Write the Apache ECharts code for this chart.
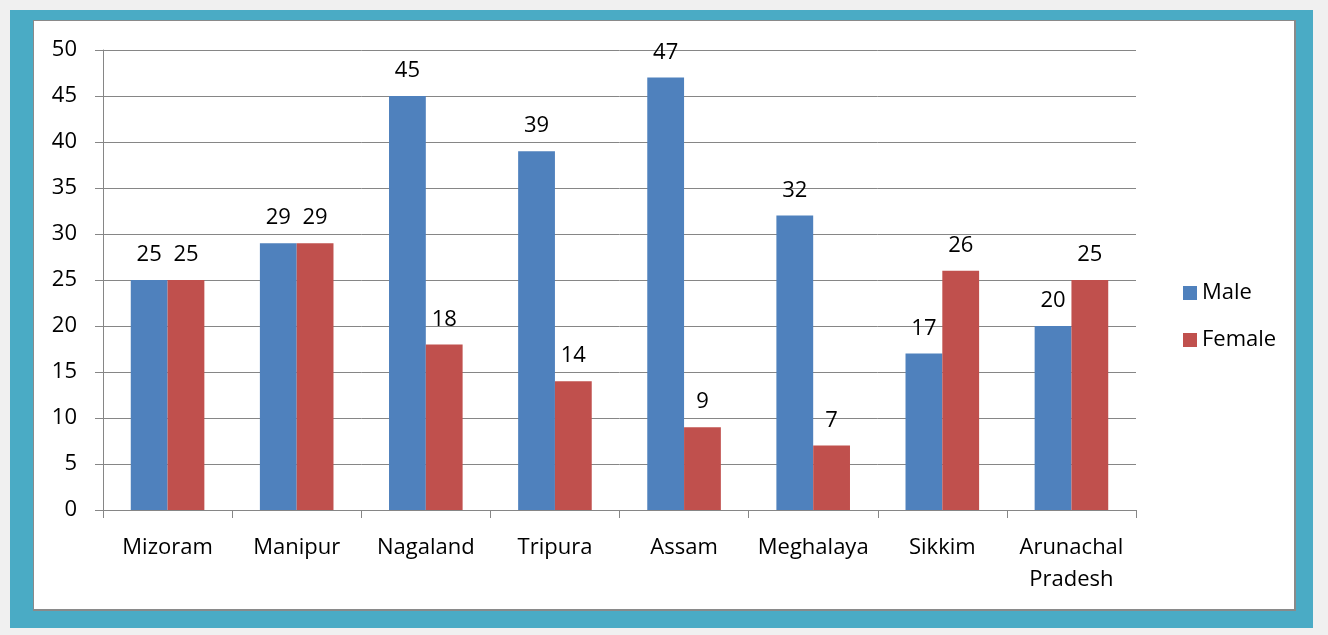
<!DOCTYPE html>
<html>
<head>
<meta charset="utf-8">
<script src="https://cdn.jsdelivr.net/npm/echarts@6/dist/echarts.min.js"></script>
<style>
  html, body { margin: 0; padding: 0; background: #f0f0f0; width: 1328px; height: 635px; overflow: hidden; }
  #frame { position: absolute; left: 10px; top: 10px; width: 1303px; height: 618px; background: #4aabc5; }
  #inner { position: absolute; left: 33px; top: 20px; width: 1263px; height: 591px; background: #fff; border: 1px solid #8a8a8a; border-bottom-width: 2px; border-right-width: 2px; box-sizing: border-box; }
  #chart { position: absolute; left: 0; top: 0; width: 1328px; height: 635px; }
</style>
</head>
<body>
<div id="frame"></div>
<div id="inner"></div>
<div id="chart"></div>
<script>
const categories = ['Mizoram', 'Manipur', 'Nagaland', 'Tripura', 'Assam', 'Meghalaya', 'Sikkim', 'Arunachal\nPradesh'];
const maleValues = [25, 29, 45, 39, 47, 32, 17, 20];
const femaleValues = [25, 29, 18, 14, 9, 7, 26, 25];
const yTicks = { min: 0, max: 50, interval: 5 };

const FONT = 'Open Sans';
const FS = 22;
const chart = echarts.init(document.getElementById('chart'), null, { renderer: 'canvas' });
const labelStyle = { show: true, position: 'top', distance: 14, color: '#000', fontFamily: FONT, fontSize: FS };
chart.setOption({
  backgroundColor: 'transparent',
  animation: false,
  grid: { left: 103, right: 192, top: 50, bottom: 125, containLabel: false },
  legend: {
    orient: 'vertical',
    left: 1178,
    top: 277,
    itemWidth: 14,
    itemHeight: 14,
    itemGap: 25,
    icon: 'rect',
    textStyle: { fontFamily: FONT, fontSize: FS, color: '#000' },
    data: ['Male', 'Female']
  },
  xAxis: {
    type: 'category',
    data: categories,
    axisLine: { lineStyle: { color: '#868686', width: 1 } },
    axisTick: { show: true, length: 8, lineStyle: { color: '#868686' } },
    axisLabel: { interval: 0, color: '#000', fontFamily: FONT, fontSize: FS, margin: 22, lineHeight: 32 }
  },
  yAxis: {
    type: 'value',
    min: yTicks.min,
    max: yTicks.max,
    interval: yTicks.interval,
    axisLine: { show: true, lineStyle: { color: '#868686', width: 1 } },
    axisTick: { show: true, length: 8, lineStyle: { color: '#868686' } },
    splitLine: { lineStyle: { color: '#868686', width: 1 } },
    axisLabel: { color: '#000', fontFamily: FONT, fontSize: FS, margin: 26 }
  },
  series: [
    { name: 'Male', type: 'bar', data: maleValues, barGap: '0%', barCategoryGap: '43%',
      itemStyle: { color: '#4f81bd' }, label: labelStyle },
    { name: 'Female', type: 'bar', data: femaleValues, barGap: '0%', barCategoryGap: '43%',
      itemStyle: { color: '#c0504d' }, label: labelStyle }
  ]
});
</script>
</body>
</html>
